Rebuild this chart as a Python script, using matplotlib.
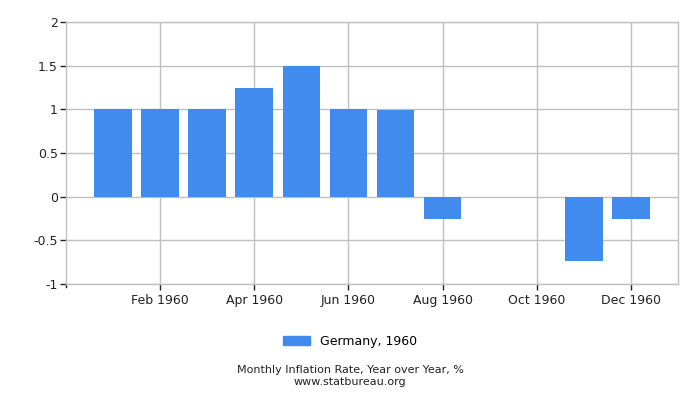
import matplotlib
matplotlib.use("Agg")
import matplotlib.pyplot as plt

months = ["Jan", "Feb", "Mar", "Apr", "May", "Jun",
          "Jul", "Aug", "Sep", "Oct", "Nov", "Dec"]
rates = [1.0, 1.0, 1.0, 1.25, 1.5, 1.0, 0.99, -0.25, 0.0, 0.0, -0.74, -0.25]
tick_months = ["Feb", "Apr", "Jun", "Aug", "Oct", "Dec"]
year = 1960

bar_color = "#418bee"
grid_color = "#c0c0c0"

fig = plt.figure(figsize=(7, 4), dpi=100)
ax = fig.add_axes([0.0943, 0.29, 0.8743, 0.655])

x = list(range(1, len(months) + 1))
ax.bar(x, rates, width=0.8, color=bar_color, zorder=2)

ax.set_xlim(0, 13)
ax.set_ylim(-1, 2)
ax.set_yticks([-1, -0.5, 0, 0.5, 1, 1.5, 2])
ax.set_yticklabels(["-1", "-0.5", "0", "0.5", "1", "1.5", "2"])
ax.set_xticks([months.index(m) + 1 for m in tick_months])
ax.set_xticklabels([f"{m} {year}" for m in tick_months])

ax.grid(True, color=grid_color, linewidth=1, zorder=0)
for s in ax.spines.values():
    s.set_color(grid_color)
    s.set_linewidth(1)
ax.tick_params(axis="both", colors="#222222", labelsize=9, length=4, width=1)
ax.tick_params(axis="y", pad=2)

# left-edge tick on x axis
ax.plot([0, 0], [-1, -1.04], color="#222222", lw=1, clip_on=False)

handle = plt.Rectangle((0, 0), 1, 1, color=bar_color)
fig.legend([handle], [f"Germany, {year}"], loc="center", bbox_to_anchor=(0.5, 0.147),
           frameon=False, fontsize=9, handlelength=2.2, handleheight=0.8)

fig.text(0.5, 0.074, "Monthly Inflation Rate, Year over Year, %", ha="center",
         va="center", fontsize=8, color="#222222")
fig.text(0.5, 0.046, "www.statbureau.org", ha="center", va="center",
         fontsize=8, color="#222222")

fig.savefig("out.png", dpi=100)
